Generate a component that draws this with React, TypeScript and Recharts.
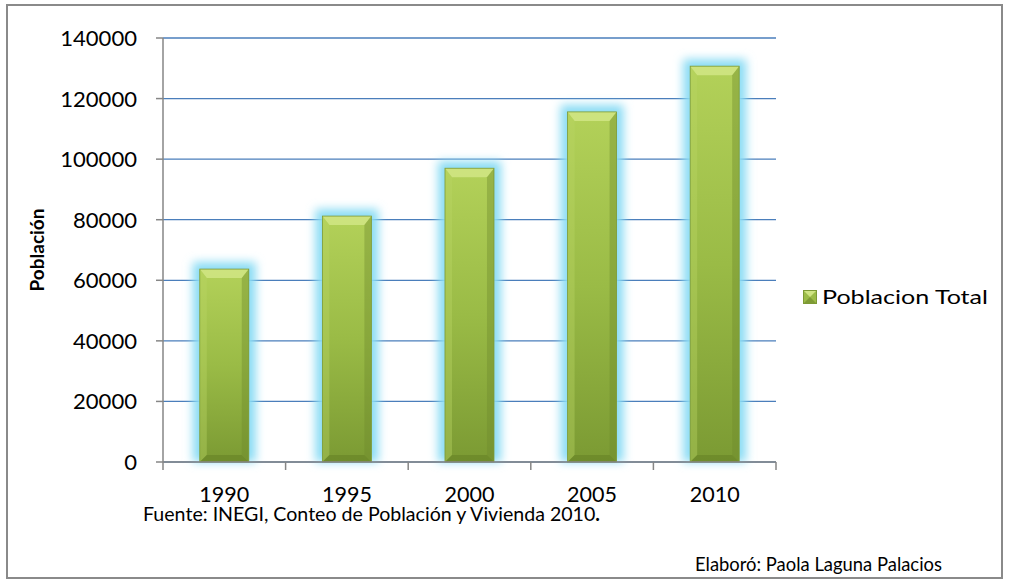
import React from "react";
import { BarChart, Bar, XAxis, YAxis, CartesianGrid, Legend } from "recharts";

const categories = ["1990", "1995", "2000", "2005", "2010"];
const poblacionTotal = [63700, 81200, 97000, 115600, 130700];
const yTicks = [0, 20000, 40000, 60000, 80000, 100000, 120000, 140000];
const seriesName = "Poblacion Total";
const yLabel = "Población";
const fuente = "Fuente: INEGI, Conteo de Población y Vivienda 2010";
const elaboro = "Elaboró: Paola Laguna Palacios";

const data = categories.map((c, i) => ({ year: c, value: poblacionTotal[i] }));

const W = 1011;
const H = 584;
const LEGEND_W = 200;
const X_AXIS_H = 30;
const M = { top: 38, right: 235 - LEGEND_W, bottom: 122 - X_AXIS_H, left: 8 };
const Y_AXIS_W = 155;
const PLOT_L = M.left + Y_AXIS_W;
const PLOT_R = W - 235;
const PLOT_B = H - 122;
const PLOT_W = PLOT_R - PLOT_L;
const BAND = PLOT_W / categories.length;
const FONT = "Lato, 'Open Sans', sans-serif";
const DIGIT_W = 12.8;

const BarShape = (props: any) => {
  const { x, y, width, height } = props;
  if (!height || height <= 0) return null;
  const b = 7;
  return (
    <g>
      <rect
        x={x - 7}
        y={y - 7}
        width={width + 14}
        height={height + 7}
        fill="#8adcf4"
        filter="url(#glow)"
      />
      <rect x={x} y={y} width={width} height={height} fill="url(#barGrad)" />
      <polygon
        points={`${x},${y} ${x + width},${y} ${x + width - b},${y + b + 2} ${x + b},${y + b + 2}`}
        fill="#cfe483"
        opacity={0.9}
      />
      <polygon
        points={`${x},${y} ${x + b},${y + b + 2} ${x + b},${y + height - b} ${x},${y + height}`}
        fill="#b9d463"
        opacity={0.4}
      />
      <polygon
        points={`${x + width},${y} ${x + width - b},${y + b + 2} ${x + width - b},${y + height - b} ${x + width},${y + height}`}
        fill="#6f8a2c"
        opacity={0.4}
      />
      <polygon
        points={`${x},${y + height} ${x + b},${y + height - b} ${x + width - b},${y + height - b} ${x + width},${y + height}`}
        fill="#5f7a22"
        opacity={0.45}
      />
      <rect x={x} y={y} width={width} height={height} fill="none" stroke="#7d9a35" strokeWidth={0.8} />
    </g>
  );
};

const XTick = (props: any) => {
  const { x, payload, index } = props;
  const left = x - BAND / 2;
  const right = x + BAND / 2;
  const label = String(payload.value);
  return (
    <g>
      <line x1={left} y1={PLOT_B} x2={left} y2={PLOT_B + 8} stroke="#868686" strokeWidth={1.5} />
      {index === categories.length - 1 && (
        <line x1={right} y1={PLOT_B} x2={right} y2={PLOT_B + 8} stroke="#868686" strokeWidth={1.5} />
      )}
      <text
        x={x}
        y={PLOT_B + 40}
        textAnchor="middle"
        fontFamily={FONT}
        fontSize={21}
        fill="#000"
        textLength={label.length * 12.5}
        lengthAdjust="spacingAndGlyphs"
      >
        {label}
      </text>
    </g>
  );
};

const YTick = (props: any) => {
  const { y, payload } = props;
  const label = String(payload.value);
  return (
    <text
      x={PLOT_L - 26}
      y={y + 8}
      textAnchor="end"
      fontFamily={FONT}
      fontSize={22}
      fill="#000"
      textLength={label.length * DIGIT_W}
      lengthAdjust="spacingAndGlyphs"
    >
      {label}
    </text>
  );
};

const LegendContent = () => (
  <svg width={LEGEND_W} height={24} style={{ display: "block", overflow: "visible" }}>
    <rect x={0.5} y={5.5} width={13} height={13} fill="#9cbc48" stroke="#7d9a35" />
    <polygon points="1,6 13,6 7,12" fill="#cfe483" />
    <polygon points="1,18 13,18 7,12" fill="#7f9b35" />
    <text
      x={19}
      y={19}
      fontFamily={FONT}
      fontSize={20}
      fill="#000"
      textLength={166}
      lengthAdjust="spacingAndGlyphs"
    >
      {seriesName}
    </text>
  </svg>
);

export default function App() {
  return (
    <div style={{ position: "absolute", left: 0, top: 0, width: W, height: H, background: "#fff" }}>
      <div
        style={{
          position: "absolute",
          left: 6,
          top: 4,
          width: 997,
          height: 575,
          border: "2px solid #8a8a8a",
          boxSizing: "border-box",
        }}
      />
      <BarChart width={W} height={H} data={data} margin={M} barCategoryGap="30%">
        <defs>
          <linearGradient id="barGrad" x1="0" y1="0" x2="0" y2="1">
            <stop offset="0%" stopColor="#b3d159" />
            <stop offset="50%" stopColor="#9abb46" />
            <stop offset="100%" stopColor="#7b9a33" />
          </linearGradient>
          <filter id="glow" x="-50%" y="-20%" width="200%" height="140%">
            <feGaussianBlur stdDeviation="5" />
          </filter>
        </defs>
        <CartesianGrid horizontal vertical={false} stroke="#4a7ebb" strokeWidth={1.3} />
        <XAxis
          dataKey="year"
          height={X_AXIS_H}
          axisLine={{ stroke: "#868686", strokeWidth: 1.5 }}
          tickLine={false}
          tick={<XTick />}
          interval={0}
        />
        <YAxis
          width={Y_AXIS_W}
          domain={[0, 140000]}
          ticks={yTicks}
          axisLine={{ stroke: "#868686", strokeWidth: 1.5 }}
          tickLine={{ stroke: "#868686", strokeWidth: 1.5 }}
          tickSize={7}
          tick={<YTick />}
          interval={0}
          label={{
            value: yLabel,
            angle: -90,
            position: "insideLeft",
            offset: 29,
            style: { fontFamily: FONT, fontSize: 19, fontWeight: 700, fill: "#000", textAnchor: "middle" },
          }}
        />
        <Legend
          layout="vertical"
          align="right"
          verticalAlign="middle"
          width={LEGEND_W}
          content={<LegendContent />}
          wrapperStyle={{ left: 803, top: 285, width: LEGEND_W }}
        />
        <Bar dataKey="value" name={seriesName} shape={<BarShape />} isAnimationActive={false} />
      </BarChart>
      <svg width={W} height={H} style={{ position: "absolute", left: 0, top: 0, pointerEvents: "none" }}>
        <text x={143} y={521} fontFamily={FONT} fontSize={20} fill="#000" textLength={457} lengthAdjust="spacingAndGlyphs">
          {fuente}
          <tspan fontWeight={700}>.</tspan>
        </text>
        <text x={695} y={571} fontFamily={FONT} fontSize={20} fill="#000" textLength={247} lengthAdjust="spacingAndGlyphs">
          {elaboro}
        </text>
      </svg>
    </div>
  );
}
